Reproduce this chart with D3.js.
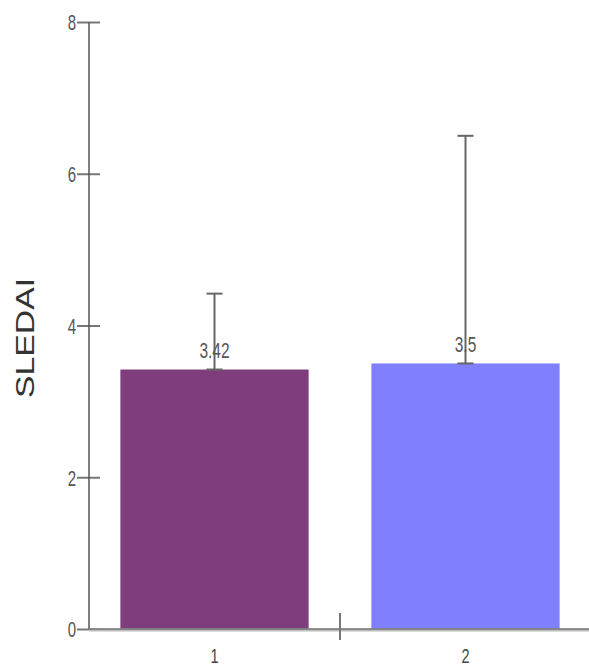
<!DOCTYPE html>
<html><head><meta charset="utf-8">
<script src="https://cdn.jsdelivr.net/npm/d3@7"></script>
<style>body{margin:0;background:#fff}svg{display:block}text{font-family:Arial,"Liberation Sans",sans-serif}</style>
</head><body><svg id="c" width="589" height="666"></svg>
<script>
const categories = ["1", "2"];
const values = [3.42, 3.5];
const errors = [1.0, 3.0];
const barColors = ["#7f3d7e", "#8080ff"];
const yTicks = [0, 2, 4, 6, 8];
const yLabel = "SLEDAI";

const svg = d3.select("#c");
const x = d3.scaleBand().domain(categories).range([89, 591]).paddingInner(0).paddingOuter(0);
const y = d3.scaleLinear().domain([0, 8]).range([629, 22]);
const inset = x.bandwidth() * 0.125;
const sy = 1.45;

// bars
svg.selectAll("rect.bar").data(values).join("rect")
  .attr("x", (d, i) => x(categories[i]) + inset)
  .attr("width", x.bandwidth() - 2 * inset)
  .attr("y", d => y(d))
  .attr("height", d => y(0) - y(d))
  .attr("fill", (d, i) => barColors[i]);

// y axis
const yAxis = d3.axisLeft(y).tickValues(yTicks).tickSize(0).tickPadding(0).tickFormat(d3.format("d"));
const yg = svg.append("g").attr("transform", "translate(89,0)").call(yAxis);
yg.select(".domain").remove();
yg.selectAll(".tick text").remove();
yg.selectAll(".tick").each(function(d) {
  const g = d3.select(this);
  g.append("line").attr("x1", -12).attr("x2", 11).attr("stroke", "#777").attr("stroke-width", 2);
  g.append("text").attr("text-anchor", "end").attr("fill", "#555")
    .attr("font-size", 15).attr("transform", `translate(-13,0) scale(1,${sy})`)
    .attr("dy", "0.36em").text(d3.format("d")(d));
});
svg.append("line").attr("x1", 89).attr("x2", 89).attr("y1", y(8)).attr("y2", y(0))
  .attr("stroke", "#555").attr("stroke-width", 1.5);

// x axis
svg.append("line").attr("x1", 89).attr("x2", 589).attr("y1", y(0) + 1).attr("y2", y(0) + 1)
  .attr("stroke", "#bbb").attr("stroke-width", 3);
svg.append("line").attr("x1", 89).attr("x2", 589).attr("y1", y(0)).attr("y2", y(0))
  .attr("stroke", "#777").attr("stroke-width", 1.5);
svg.append("line").attr("x1", x("2")).attr("x2", x("2")).attr("y1", 613).attr("y2", 640)
  .attr("stroke", "#777").attr("stroke-width", 2);
svg.selectAll("text.xl").data(categories).join("text").attr("class", "xl")
  .attr("text-anchor", "middle").attr("fill", "#444").attr("font-size", 14.5)
  .attr("transform", d => `translate(${x(d) + x.bandwidth() / 2},655) scale(1,${sy})`)
  .attr("dy", "0.36em").text(d => d);

// error bars
values.forEach((v, i) => {
  const cx = x(categories[i]) + x.bandwidth() / 2;
  const g = svg.append("g").attr("stroke", "#666").attr("stroke-width", 2);
  g.append("line").attr("x1", cx).attr("x2", cx).attr("y1", y(v)).attr("y2", y(v + errors[i]));
  g.append("line").attr("x1", cx - 8).attr("x2", cx + 8).attr("y1", y(v + errors[i])).attr("y2", y(v + errors[i]));
  g.append("line").attr("x1", cx - 8).attr("x2", cx + 8).attr("y1", y(v)).attr("y2", y(v));
  svg.append("text").attr("text-anchor", "middle").attr("fill", "#555").attr("font-size", 15.5)
    .attr("transform", `translate(${cx},${y(v) - 10}) scale(1,${sy})`)
    .attr("dy", "-0.05em").text(d3.format("")(v));
});

// y label
svg.append("text").attr("text-anchor", "middle").attr("fill", "#333").attr("font-size", 25)
  .attr("transform", `translate(34,338) scale(1,1.35) rotate(-90)`).text(yLabel);
</script></body></html>
